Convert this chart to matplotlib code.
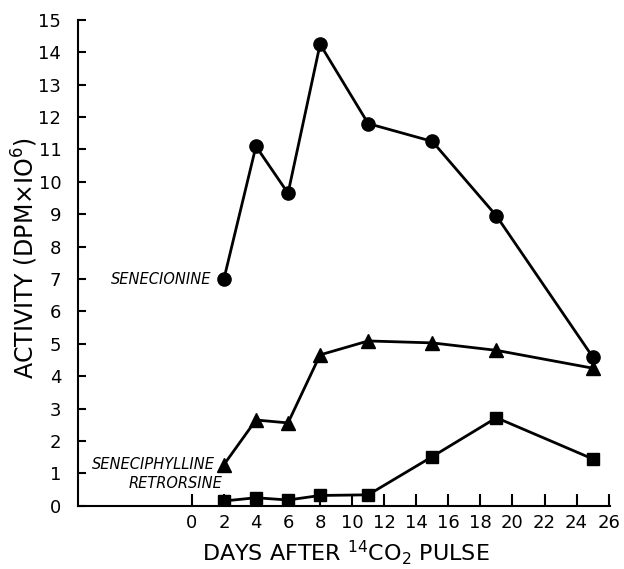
import numpy as np
import matplotlib.pyplot as plt

days = [2, 4, 6, 8, 11, 15, 19, 25]
senecionine = [7.0, 11.1, 9.65, 14.25, 11.8, 11.25, 8.95, 4.6]
seneciphylline = [1.27, 2.65, 2.56, 4.66, 5.09, 5.03, 4.8, 4.25]
retrorsine = [0.15, 0.25, 0.18, 0.32, 0.34, 1.52, 2.72, 1.45]

xticks = list(range(0, 27, 2))
yticks = list(range(0, 16))

plt.rcParams['font.family'] = ['DejaVu Sans']

fig = plt.figure(figsize=(6.24, 5.69), dpi=100)
ax = fig.add_axes([0.125, 0.111, 0.853, 0.854])

lw = 2.0
ax.plot(days, senecionine, color='black', lw=lw, marker='o', ms=9.5)
ax.plot(days, seneciphylline, color='black', lw=lw, marker='^', ms=10.5)
ax.plot(days, retrorsine, color='black', lw=lw, marker='s', ms=9)

ax.set_xlim(-7.1, 26.1)
ax.set_ylim(0, 15)
ax.set_xticks(xticks)
ax.set_yticks(yticks)
ax.spines['top'].set_visible(False)
ax.spines['right'].set_visible(False)
for s in ('left', 'bottom'):
    ax.spines[s].set_linewidth(1.5)
ax.tick_params(axis='both', direction='in', width=1.5, labelsize=13)
ax.tick_params(axis='y', length=6, pad=12)
ax.tick_params(axis='x', length=9, pad=6)

lab = dict(fontsize=10.5, style='italic', ha='right', va='center')
ax.text(1.25, senecionine[0], 'SENECIONINE', **lab)
ax.text(1.45, seneciphylline[0], 'SENECIPHYLLINE', **lab)
ax.text(1.9, 0.68, 'RETRORSINE', **lab)

fig.text(25 / 624, 1 - 258 / 569, 'ACTIVITY (DPM$\\times$IO$^6$)', fontsize=17,
         rotation=90, ha='center', va='center')
fig.text(346 / 624, 1 - 553 / 569, 'DAYS AFTER $^{14}$CO$_2$ PULSE', fontsize=16,
         ha='center', va='center')

fig.savefig('out.png', dpi=100)
